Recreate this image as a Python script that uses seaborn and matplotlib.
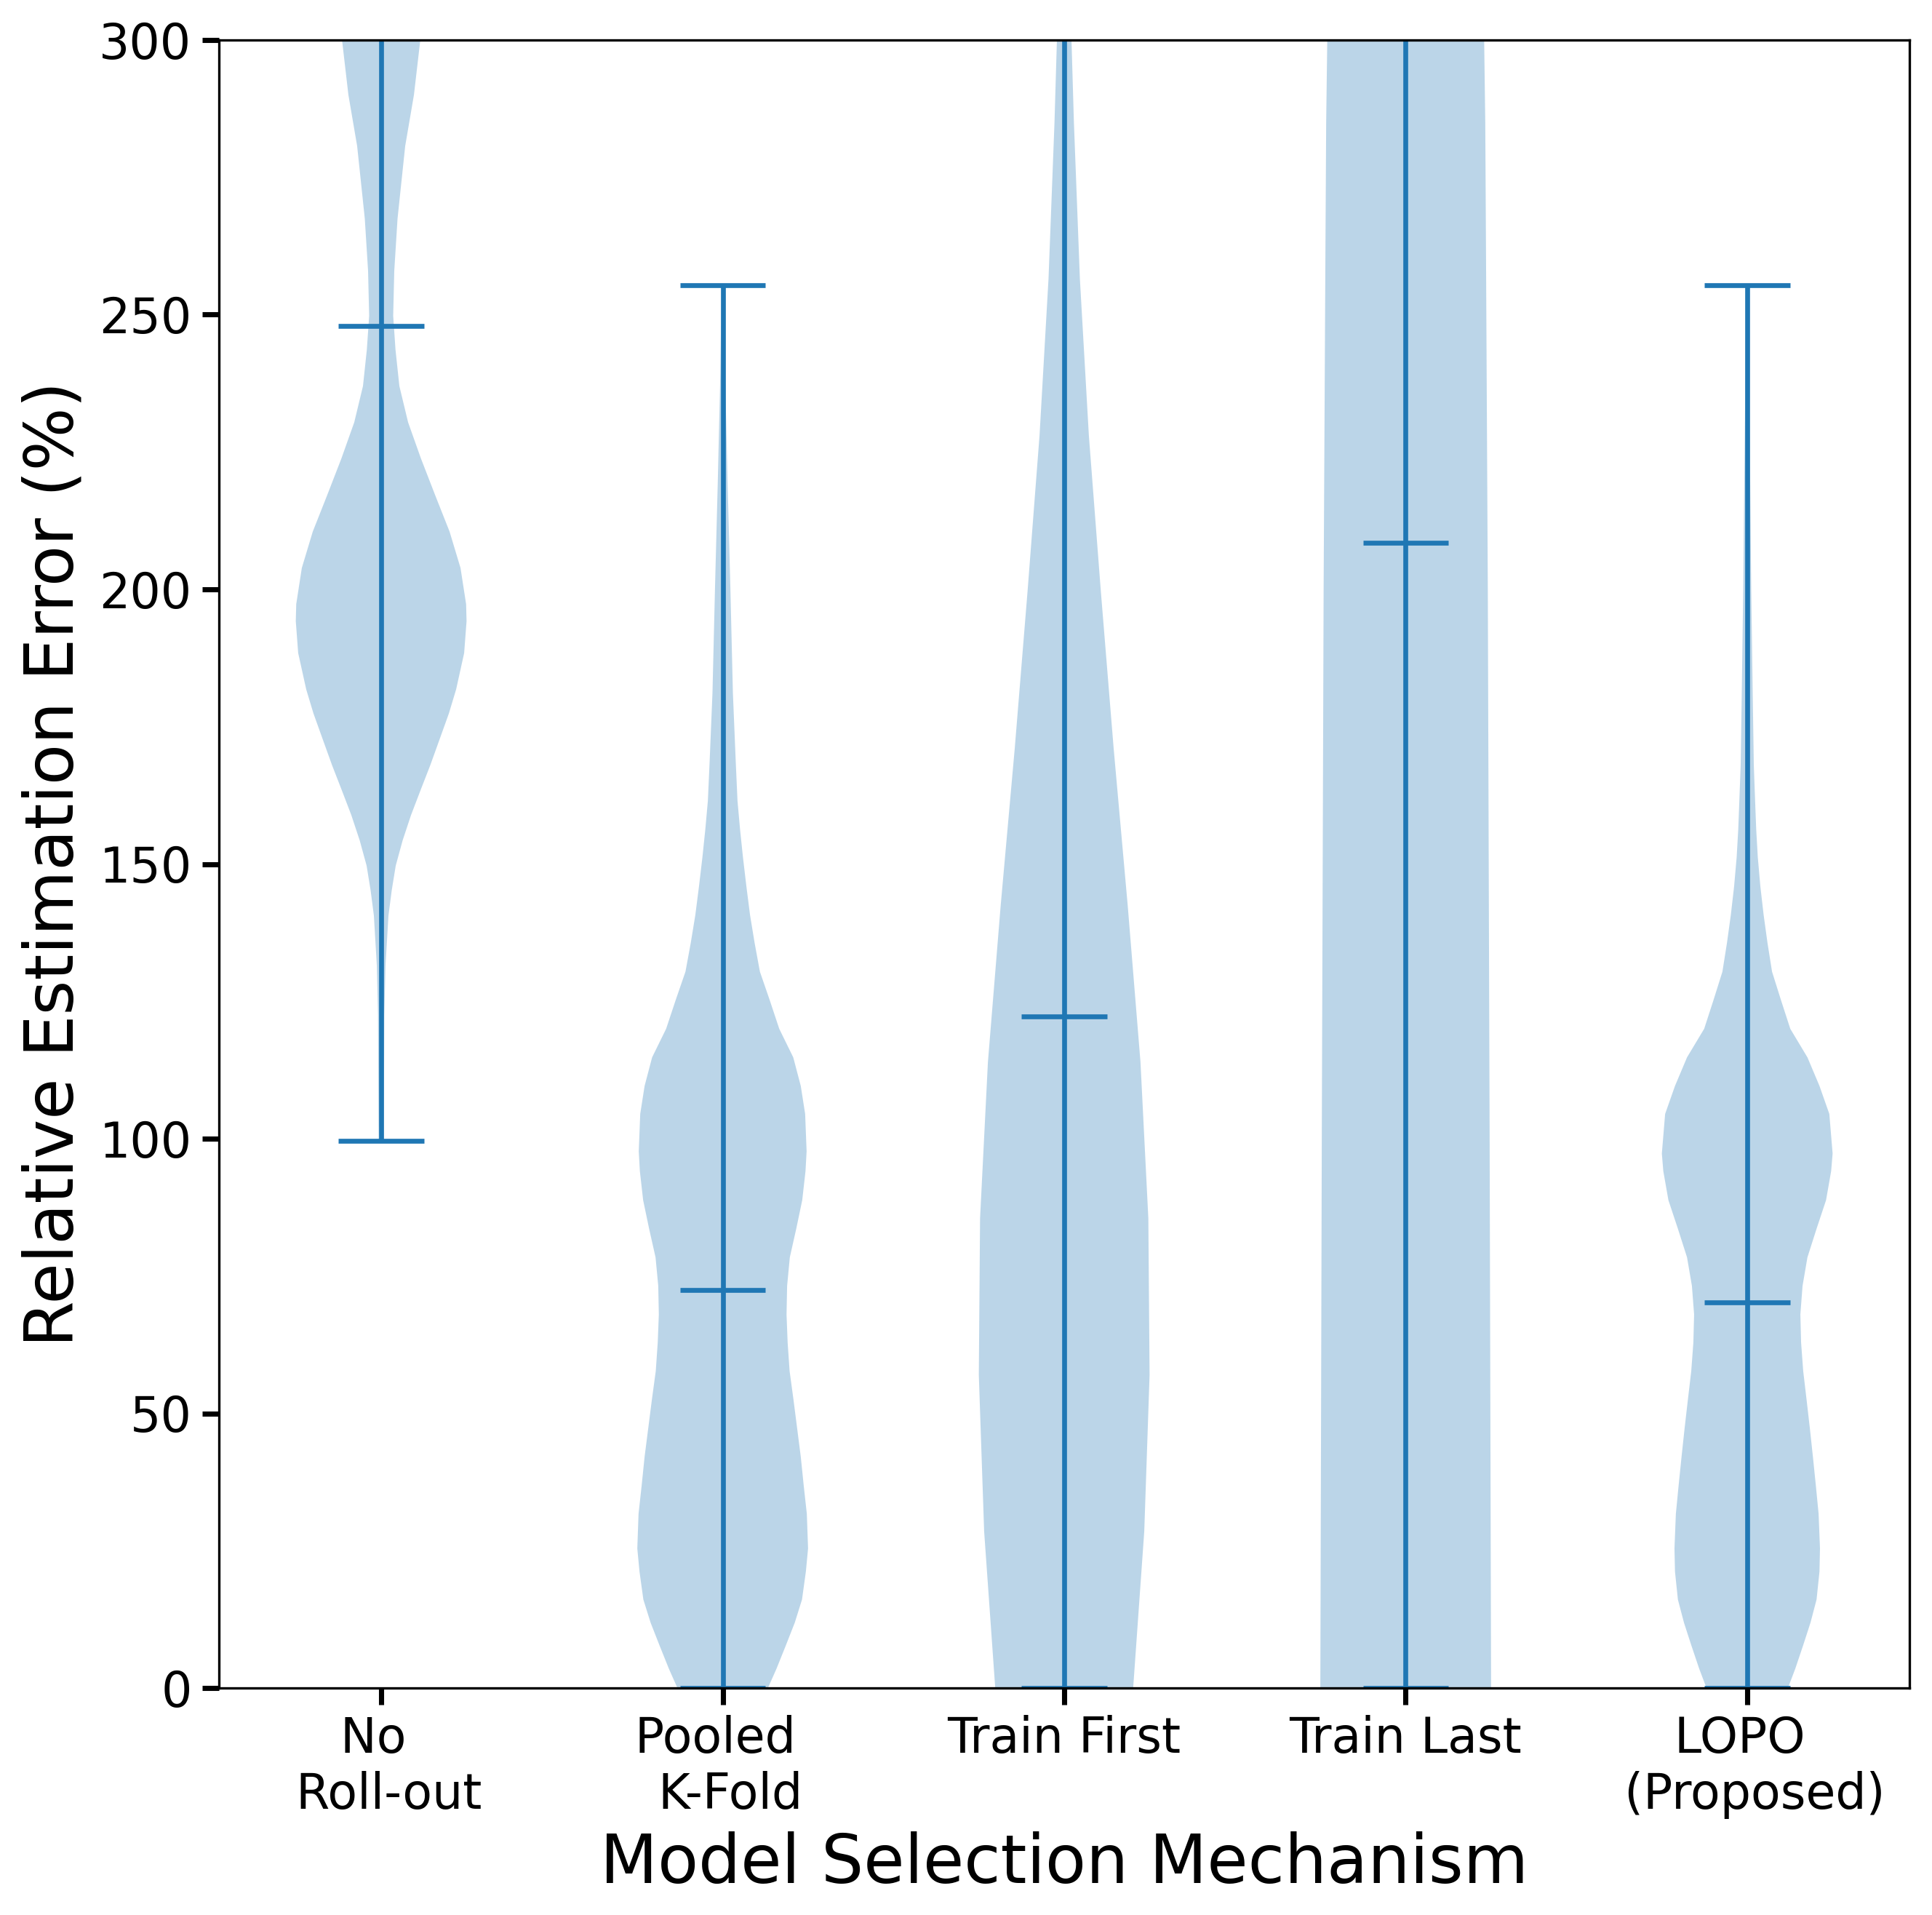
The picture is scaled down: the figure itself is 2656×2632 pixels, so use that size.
import matplotlib
matplotlib.use("Agg")
import matplotlib.pyplot as plt
import seaborn as sns

# categories / positions
mechanisms = ['No \n Roll-out', 'Pooled \n K-Fold', 'Train First', 'Train Last', 'LOPO \n (Proposed)']
positions = [1, 2, 3, 4, 5]

# violin outlines: y grid + relative density (half width)
no_rollout_y = [99.6, 113, 122.5, 131.6, 136.1, 140.6, 145.2, 149.7, 154.3, 158.9, 163.4, 168,
                172.6, 177.4, 181.8, 188.4, 194.2, 197.3, 203.9, 210.5, 217.1, 223.8, 230.4,
                237, 243.6, 249.8, 258, 267.5, 280.7, 290, 299.7, 320]
no_rollout_w = [3.5, 4, 4.3, 6, 8, 10, 14.5, 20, 29.5, 41, 54, 67.5,
                80, 93, 103, 114, 117.3, 116.7, 109, 94, 74.3, 54.7, 37,
                25, 19.7, 16.5, 18, 22.5, 33, 45, 53.5, 75]

pooled_y = [0, 3.5, 7.8, 11.9, 16.1, 21.2, 25.4, 31.7, 36.9, 42.1, 47.3, 52.5, 57.7, 62.9,
            68, 73.2, 78.4, 83.6, 88.8, 94.1, 97.7, 104.5, 109.6, 114.8, 120, 125.2, 130.4,
            135.6, 140.7, 145.9, 151.2, 156.3, 161.5, 168.3, 181.1, 200.4, 219.6, 239, 255.4]
pooled_w = [62, 73.7, 86.7, 98.8, 108.7, 114, 117, 115.3, 111, 107, 102, 97, 91.7, 89,
            87.5, 88.3, 92, 100.8, 109, 113.5, 115, 113, 107, 96.7, 77.5, 64.5, 51,
            43.8, 37.5, 32.5, 27.8, 23.8, 20.3, 18, 14, 10.5, 6.7, 3.3, 1.5]

train_first_y = [0, 28.5, 57, 85.5, 114, 142.5, 171, 199.5, 228, 256.5, 285, 313.5]
train_first_w = [94.5, 109.7, 117, 115.3, 104.5, 87, 67.8, 50.3, 33.8, 21.5, 13.3, 7]

train_last_y = [0, 100, 200, 262, 285, 300, 330]
train_last_w = [117, 115, 112.5, 110, 109, 107.5, 104]

lopo_y = [0, 3.5, 7.8, 11.9, 16.1, 21.2, 25.4, 31.7, 36.9, 42.1, 47.3, 52.5, 57.7, 62.9,
          68, 73.2, 78.4, 83.6, 88.8, 94.1, 97.3, 104.5, 109.6, 114.8, 120, 125.2, 130.4,
          135.6, 140.7, 145.9, 151.2, 156.3, 161.5, 168, 181, 200, 220, 239, 255.4]
lopo_w = [55.8, 65.8, 76.7, 86.7, 95, 99, 99.7, 97.8, 94, 90, 85.8, 81.3, 76.7, 73.8,
          72.8, 75.8, 82.5, 95, 108, 115, 117, 112.5, 99, 82.5, 59, 46.3, 34,
          27.8, 22.5, 18, 14.5, 12.3, 10.8, 9, 7.5, 5.5, 4, 2.5, 1.5]

# summary values
medians = [248.0, 72.4, 122.3, 208.5, 70.2]
mins = [99.6, 0, 0, 0, 0]
maxs = [340, 255.4, 340, 340, 255.4]

sns.set_theme(style="ticks", rc={
    "axes.edgecolor": "black",
    "axes.linewidth": 0.8,
    "text.color": "black",
    "axes.labelcolor": "black",
    "xtick.color": "black",
    "ytick.color": "black",
    "xtick.major.size": 5.5,
    "ytick.major.size": 5.5,
    "xtick.major.width": 1.7,
    "ytick.major.width": 1.7,
    "xtick.labelsize": 16,
    "ytick.labelsize": 16,
    "axes.labelsize": 22,
})
plt.rcParams['font.family'] = ['DejaVu Sans']

blue = sns.color_palette("tab10")[0]

profiles = [(no_rollout_y, no_rollout_w), (pooled_y, pooled_w), (train_first_y, train_first_w),
            (train_last_y, train_last_w), (lopo_y, lopo_w)]
vpstats = []
for (ys, ws), med, lo, hi in zip(profiles, medians, mins, maxs):
    vpstats.append({'coords': ys, 'vals': ws, 'mean': med, 'median': med, 'min': lo, 'max': hi})

fig, ax = plt.subplots(figsize=(2656 / 300, 2632 / 300), dpi=300)
fig.subplots_adjust(left=301 / 2656, right=2625 / 2656, bottom=1 - 2320 / 2632, top=1 - 55 / 2632)

parts = ax.violin(vpstats, positions=positions, widths=0.5,
                  showmeans=False, showextrema=True, showmedians=True)
for body in parts['bodies']:
    body.set_facecolor(blue)
    body.set_edgecolor('none')
    body.set_alpha(0.3)
for key in ['cbars', 'cmins', 'cmaxes', 'cmedians']:
    parts[key].set_color(blue)
    parts[key].set_linewidth(1.6)

ax.set_ylim(0, 300)
ax.set_xlim(0.525, 5.475)
ax.set_xticks(positions)
ax.set_xticklabels(mechanisms)
ax.set_yticks([0, 50, 100, 150, 200, 250, 300])
ax.set_xlabel('Model Selection Mechanism')
ax.set_ylabel('Relative Estimation Error (%)')
for side in ['top', 'right']:
    ax.spines[side].set_visible(True)

fig.savefig('out.png', dpi=300)
